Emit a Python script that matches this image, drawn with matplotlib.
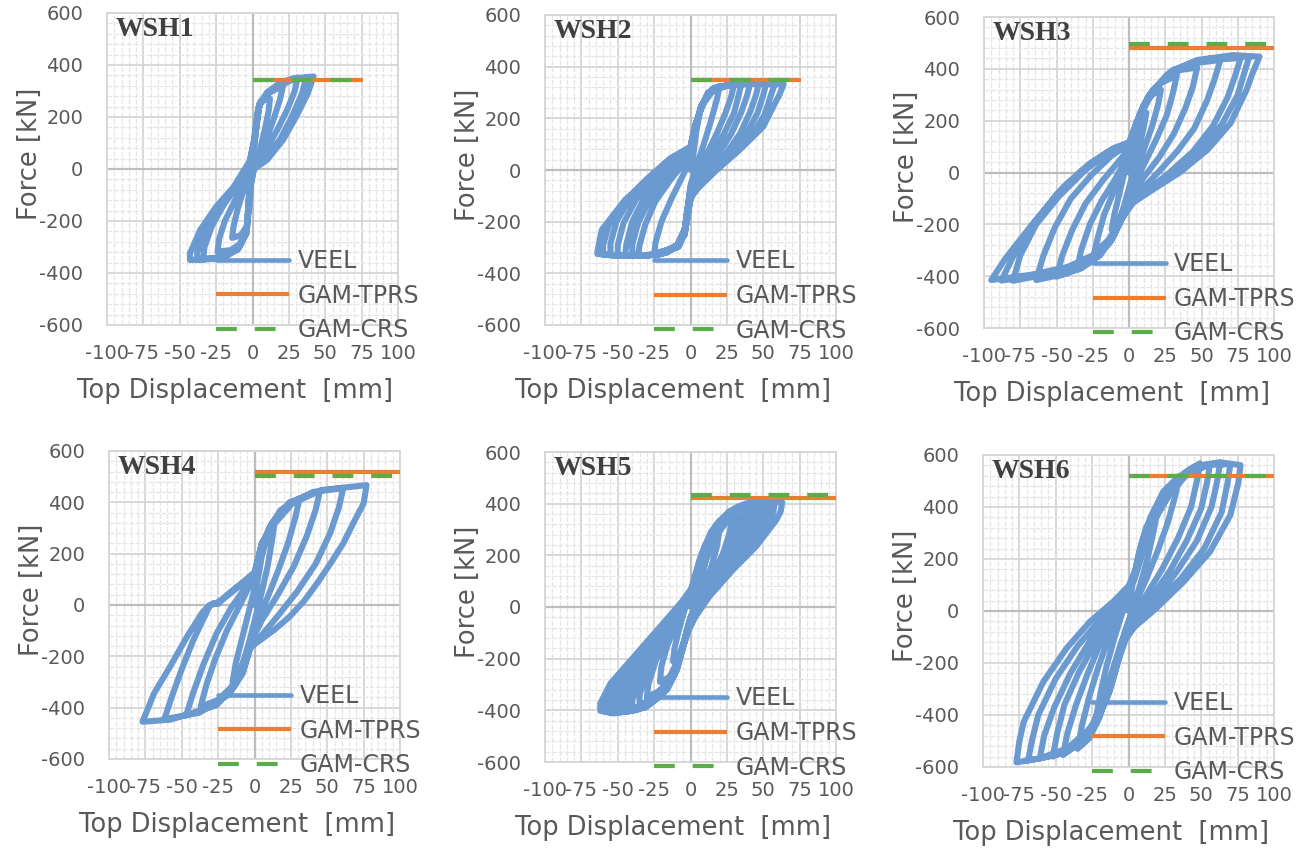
import matplotlib.pyplot as plt
from matplotlib.ticker import MultipleLocator

plt.rcParams['font.family'] = ['DejaVu Sans']
plt.rcParams['axes.unicode_minus'] = False

# specimen names and the two GAM strength estimates [kN]
specimens = ['WSH1', 'WSH2', 'WSH3', 'WSH4', 'WSH5', 'WSH6']
tprs_force = [342, 348, 481, 517, 423, 520]
crs_force = [342, 348, 496, 504, 434, 520]
gam_disp_end = [76, 76, 100, 100, 100, 100]

# VEEL hysteresis paths, (top displacement [mm], force [kN])
wsh1_path = [
    (0, 0), (1, 80), (3, 180), (5, 250), (8, 265), (12, 270),
    (11, 220), (8, 140), (5, 70), (1, 0), (-1, -60), (-2, -140), (-4, -220), (-8, -255), (-14, -265),
    (-13, -220), (-10, -150), (-6, -80), (-2, 0),
    (0, 50), (2, 150), (4, 235), (6, 262), (12, 295), (21, 320),
    (19, 270), (15, 200), (10, 120), (5, 50), (0, -5), (-2, -90), (-3, -170), (-4, -240), (-9, -290), (-15, -312), (-24, -318),
    (-23, -270), (-19, -200), (-12, -120), (-5, -40), (-1, 20),
    (1, 80), (3, 180), (5, 250), (10, 295), (20, 335), (31, 352),
    (29, 300), (24, 230), (17, 150), (9, 70), (1, 0), (-2, -70), (-3, -150), (-4, -230), (-8, -290), (-18, -335), (-34, -348),
    (-33, -300), (-28, -220), (-20, -140), (-10, -60), (-2, 20),
    (1, 110), (3, 200), (5, 255), (7, 268), (15, 312), (28, 348), (42, 356),
    (38, 291), (30, 201), (21, 112), (10, 35), (0, -4), (-2, -80), (-3, -160), (-4, -247), (-10, -310), (-22, -345), (-43, -350),
    (-43, -325), (-36, -235), (-25, -145), (-13, -69), (-2, 30),
    (2, 130), (4, 230), (6, 262), (14, 308), (26, 340), (37, 352),
    (34, 290), (27, 200), (19, 115), (9, 40), (0, -2), (-2, -75), (-3, -155), (-4, -240), (-9, -300), (-20, -340), (-38, -348),
    (-38, -320), (-32, -235), (-22, -145), (-11, -65), (-2, 25),
]

wsh2_path = [
    (0, 0), (2, 60), (4, 150), (7, 240), (12, 300), (20, 325),
    (18, 270), (13, 170), (8, 80), (3, 0), (0, -60), (-2, -150), (-4, -230), (-9, -290), (-16, -320), (-25, -330),
    (-24, -280), (-20, -200), (-13, -110), (-6, -30), (0, 40),
    (3, 150), (7, 240), (12, 295), (20, 322), (30, 332),
    (28, 285), (24, 220), (18, 140), (11, 60), (4, -10), (0, -70), (-2, -150), (-4, -230), (-9, -290), (-20, -325), (-36, -333),
    (-35, -290), (-31, -210), (-24, -120), (-14, -40), (-4, 30), (0, 60),
    (3, 150), (7, 245), (14, 305), (26, 330), (41, 335),
    (39, 290), (35, 225), (28, 140), (19, 60), (9, -10), (2, -70), (-1, -130), (-3, -200), (-4, -250), (-10, -300), (-24, -328), (-45, -332),
    (-44, -285), (-40, -200), (-32, -110), (-20, -30), (-8, 40), (0, 75),
    (3, 160), (8, 250), (16, 315), (32, 333), (52, 336),
    (50, 290), (46, 220), (38, 135), (27, 60), (14, -5), (4, -70), (0, -110), (-2, -180), (-4, -245), (-10, -300), (-30, -332), (-55, -330),
    (-55, -285), (-51, -200), (-41, -105), (-26, -20), (-10, 55), (0, 85),
    (3, 168), (8, 252), (17, 320), (35, 333), (64, 332),
    (61, 290), (58, 258), (50, 168), (36, 90), (18, 0), (6, -65), (0, -100), (-2, -180), (-4, -245), (-8, -297), (-20, -325), (-40, -333), (-64, -325),
    (-64, -316), (-61, -232), (-45, -116), (-22, 0), (0, 90), (3, 168), (6, 220),
    (12, 295), (25, 328), (45, 334), (58, 334),
    (55, 285), (51, 215), (43, 140), (31, 65), (17, 0), (5, -70), (0, -110), (-2, -180), (-4, -245), (-10, -300), (-28, -330), (-50, -332), (-60, -328),
    (-60, -290), (-56, -210), (-45, -120), (-30, -35), (-14, 45), (0, 90), (3, 168), (8, 252), (15, 315), (30, 332), (47, 335),
    (45, 290), (41, 225), (34, 140), (24, 60), (12, -8), (3, -70), (-1, -130), (-3, -200), (-4, -250), (-10, -300), (-26, -330), (-50, -331),
    (-50, -290), (-46, -205), (-37, -110), (-24, -25), (-9, 48), (0, 80), (3, 155), (7, 240), (13, 300), (24, 328), (35, 334),
    (33, 288), (30, 222), (23, 140), (15, 60), (6, -10), (0, -75), (-2, -150), (-4, -230), (-9, -290), (-22, -327), (-40, -333),
    (-40, -288), (-36, -205), (-28, -115), (-17, -35), (-6, 35), (0, 65),
]

wsh3_path = [
    (0, 0), (3, 80), (6, 150), (9, 200), (12, 230),
    (10, 170), (7, 100), (4, 30), (1, -40), (-2, -100), (-5, -160), (-8, -200), (-12, -220),
    (-10, -160), (-7, -90), (-4, -20), (-1, 50), (2, 110),
    (5, 190), (10, 260), (16, 300), (22, 320),
    (20, 260), (16, 180), (11, 100), (6, 20), (1, -60), (-3, -130), (-8, -200), (-14, -260), (-24, -310),
    (-21, -240), (-17, -160), (-11, -80), (-5, 0), (0, 70), (3, 130),
    (7, 220), (13, 290), (22, 345), (33, 375),
    (30, 300), (26, 220), (19, 130), (12, 50), (5, -30), (0, -90), (-5, -160), (-11, -240), (-20, -310), (-36, -376),
    (-33, -300), (-27, -200), (-19, -110), (-10, -30), (-2, 50), (2, 110),
    (6, 200), (13, 290), (24, 360), (35, 395), (47, 405),
    (44, 330), (39, 250), (31, 150), (21, 60), (10, -20), (2, -90), (-4, -160), (-10, -240), (-20, -320), (-33, -370), (-50, -402),
    (-46, -320), (-39, -220), (-30, -120), (-18, -30), (-6, 50), (1, 100),
    (5, 190), (14, 300), (26, 375), (42, 420), (63, 434),
    (59, 360), (54, 280), (45, 170), (33, 80), (20, 0), (8, -70), (0, -120), (-6, -190), (-13, -270), (-25, -340), (-43, -390), (-64, -415),
    (-59, -320), (-51, -210), (-40, -100), (-26, -10), (-12, 65), (0, 110),
    (5, 190), (16, 315), (30, 395), (50, 432), (77, 442),
    (73, 370), (68, 290), (58, 180), (44, 80), (27, -5), (12, -70), (2, -115), (-5, -180), (-12, -260), (-26, -330), (-50, -385), (-80, -418),
    (-75, -320), (-64, -200), (-48, -90), (-30, 10), (-13, 80), (1, 118),
    (5, 190), (17, 318), (31, 395), (47, 434), (72, 453), (90, 447),
    (85, 380), (81, 318), (70, 190), (54, 87), (35, 0), (17, -64), (3, -116), (-4, -170), (-10, -234), (-22, -312), (-41, -363), (-68, -395), (-95, -415),
    (-85, -330), (-68, -209), (-45, -54), (-27, 35), (-11, 93), (1, 119), (5, 190), (12, 270),
    (22, 350), (37, 410), (56, 440), (83, 448),
    (79, 375), (75, 300), (64, 185), (49, 85), (31, 0), (15, -66), (2, -115), (-5, -175), (-11, -245), (-24, -318), (-45, -372), (-72, -405), (-88, -417),
    (-80, -325), (-67, -205), (-50, -85), (-32, 10), (-15, 78), (0, 115), (5, 190), (15, 305), (28, 385), (44, 425), (60, 440), (70, 442),
]

wsh4_path = [
    (0, 0), (2, 90), (5, 190), (9, 270), (14, 330),
    (12, 250), (9, 150), (5, 50), (1, -40), (-3, -130), (-7, -210), (-11, -270), (-15, -300),
    (-13, -230), (-9, -140), (-5, -50), (-1, 40), (2, 110),
    (5, 220), (10, 300), (18, 370), (31, 416),
    (28, 340), (23, 240), (16, 130), (9, 30), (2, -60), (-3, -140), (-8, -230), (-16, -320), (-25, -370), (-37, -396),
    (-33, -310), (-27, -210), (-19, -100), (-10, 0), (-3, 80), (1, 130),
    (5, 230), (12, 320), (24, 400), (45, 445),
    (42, 370), (36, 270), (27, 150), (16, 40), (5, -60), (-2, -140), (-6, -220), (-13, -310), (-26, -390), (-47, -430),
    (-42, -340), (-35, -230), (-26, -110), (-16, -10), (-6, 70), (0, 125),
    (5, 240), (12, 310), (26, 400), (40, 440), (61, 456),
    (58, 380), (52, 280), (42, 160), (29, 50), (15, -50), (3, -130), (-3, -170), (-8, -260), (-18, -350), (-38, -420), (-62, -445),
    (-57, -360), (-50, -250), (-42, -136), (-31, -6), (-28, 8), (-25, 4), (-19, 39), (-10, 80), (0, 125),
    (5, 240), (12, 305), (26, 396), (46, 448), (77, 467),
    (75, 396), (68, 320), (61, 240), (52, 160), (43, 84), (34, 15), (24, -46), (14, -95), (4, -137), (-3, -165), (-8, -266), (-17, -343), (-35, -408), (-58, -447), (-77, -455),
    (-73, -400), (-69, -344), (-58, -240), (-46, -120), (-36, -30), (-31, 0), (-27, 5), (-20, 30), (-10, 75), (-1, 123), (2, 136),
]

wsh5_path = [
    (0, 0), (3, 60), (6, 140), (9, 200), (12, 230),
    (10, 170), (7, 90), (3, 10), (0, -50), (-3, -110), (-6, -170), (-9, -200), (-12, -210),
    (-11, -160), (-8, -90), (-4, -10), (0, 60), (3, 120),
    (6, 180), (10, 240), (14, 280), (20, 300),
    (18, 230), (14, 150), (8, 60), (2, -20), (-2, -80), (-5, -150), (-9, -220), (-14, -270), (-21, -290),
    (-20, -230), (-16, -150), (-10, -70), (-4, 10), (2, 90), (5, 150),
    (9, 220), (14, 290), (20, 335), (29, 355),
    (27, 290), (22, 200), (14, 110), (6, 30), (0, -40), (-3, -100), (-6, -170), (-11, -250), (-18, -315), (-30, -350),
    (-29, -300), (-24, -210), (-16, -120), (-7, -30), (2, 70), (6, 130),
    (10, 210), (16, 290), (24, 350), (33, 380),
    (32, 330), (29, 280), (22, 200), (13, 110), (5, 30), (0, -40), (-3, -100), (-6, -170), (-10, -250), (-17, -320), (-25, -360), (-35, -375),
    (-35, -340), (-31, -270), (-22, -175), (-12, -80), (-2, 15), (5, 105), (8, 170), (12, 250), (18, 320), (27, 372), (38, 395),
    (37, 360), (34, 320), (26, 225), (16, 130), (7, 40), (1, -40), (-2, -90), (-5, -150), (-9, -240), (-16, -320), (-28, -375), (-40, -395),
    (-40, -360), (-35, -285), (-25, -185), (-14, -85), (-3, 15), (5, 110), (10, 185), (16, 265), (23, 330), (32, 380), (42, 400),
    (41, 362), (38, 320), (29, 222), (18, 128), (7, 38), (1, -42), (-2, -100), (-6, -170), (-11, -262), (-19, -338), (-31, -390), (-44, -400),
    (-44, -365), (-38, -285), (-27, -182), (-15, -82), (-3, 18), (5, 110), (9, 180), (14, 260), (21, 330), (30, 380), (38, 400), (46, 405),
    (45, 365), (42, 320), (33, 220), (20, 125), (8, 35), (1, -45), (-3, -110), (-7, -190), (-13, -280), (-23, -350), (-35, -395), (-48, -405),
    (-48, -365), (-42, -285), (-30, -180), (-17, -80), (-4, 20), (5, 110), (11, 195), (17, 275), (25, 340), (34, 386), (42, 404), (50, 408),
    (49, 368), (46, 320), (36, 222), (22, 128), (9, 38), (1, -42), (-3, -110), (-7, -195), (-15, -290), (-27, -362), (-40, -402), (-52, -408),
    (-52, -368), (-46, -288), (-33, -182), (-19, -82), (-5, 18), (5, 108), (10, 190), (15, 280), (22, 345), (33, 390), (44, 405), (54, 410),
    (53, 370), (49, 320), (38, 220), (24, 130), (10, 40), (2, -40), (-3, -110), (-8, -200), (-17, -300), (-30, -370), (-43, -405), (-55, -410),
    (-55, -365), (-49, -285), (-35, -180), (-20, -80), (-5, 20), (5, 108), (12, 200), (19, 285), (27, 348), (37, 392), (48, 406), (58, 408),
    (57, 370), (54, 330), (42, 228), (27, 137), (12, 40), (3, -40), (-2, -100), (-6, -170), (-14, -280), (-26, -360), (-40, -402), (-58, -406),
    (-58, -370), (-52, -290), (-37, -186), (-21, -85), (-6, 16), (5, 106), (9, 160), (14, 250), (20, 320), (29, 372), (40, 402), (52, 410), (63, 405),
    (62, 370), (59, 337), (45, 234), (29, 143), (13, 41), (3, -40), (-2, -90), (-5, -141), (-12, -257), (-23, -348), (-37, -399), (-53, -412), (-62, -402),
    (-62, -373), (-55, -296), (-39, -193), (-23, -90), (-7, 13), (5, 104), (9, 150), (13, 234), (17, 300),
]

wsh6_path = [
    (0, 0), (3, 110), (7, 220), (12, 320), (20, 390),
    (17, 300), (13, 200), (8, 100), (3, 10), (-2, -80), (-6, -170), (-11, -270), (-16, -350), (-22, -400),
    (-19, -310), (-15, -210), (-10, -110), (-5, -20), (0, 60), (4, 140),
    (9, 260), (15, 360), (24, 460), (35, 520),
    (32, 440), (27, 340), (20, 230), (12, 120), (4, 20), (-2, -70), (-7, -170), (-13, -290), (-20, -410), (-27, -490), (-35, -530),
    (-32, -440), (-27, -330), (-21, -220), (-14, -110), (-6, -10), (1, 80), (6, 170),
    (11, 280), (18, 380), (28, 470), (38, 530), (49, 568),
    (47, 500), (43, 400), (34, 280), (23, 160), (11, 50), (1, -40), (-5, -120), (-10, -210), (-16, -320), (-24, -430), (-34, -510), (-45, -554),
    (-42, -470), (-36, -360), (-28, -240), (-19, -120), (-9, -20), (0, 70), (6, 170),
    (12, 290), (20, 400), (30, 490), (45, 555), (63, 570),
    (61, 500), (57, 400), (47, 270), (33, 150), (18, 40), (5, -50), (-2, -110), (-7, -190), (-13, -310), (-22, -430), (-35, -510), (-48, -550), (-61, -567),
    (-58, -480), (-51, -370), (-40, -240), (-27, -120), (-13, -10), (-1, 80), (7, 190),
    (13, 300), (22, 410), (33, 500), (49, 560), (63, 572), (77, 561),
    (75.5, 493), (70, 369), (56, 228), (38, 113), (19, 10), (3, -67), (-3.5, -118), (-8, -195), (-15, -323), (-26, -451), (-42, -528), (-61, -567), (-77, -582),
    (-75, -500), (-72, -426), (-58.5, -272), (-42.5, -143), (-26.5, -41), (-10.5, 36), (3, 113), (8, 215), (17, 344), (28, 446),
    (40, 525), (55, 562), (70, 565),
    (68, 490), (64, 380), (52, 240), (36, 125), (18, 25), (4, -60), (-3, -115), (-8, -200), (-14, -320), (-24, -440), (-38, -520), (-55, -560), (-69, -575),
    (-66, -490), (-62, -400), (-50, -260), (-35, -135), (-19, -30), (-5, 50), (4, 120), (10, 230), (18, 350), (28, 450), (40, 530), (56, 566),
    (54, 495), (50, 395), (40, 270), (28, 150), (14, 40), (2, -45), (-4, -115), (-9, -200), (-15, -315), (-23, -430), (-33, -505), (-52, -560),
    (-49, -470), (-44, -360), (-34, -235), (-22, -115), (-10, -15), (0, 70), (7, 180), (14, 300), (24, 420), (34, 500), (42, 545),
]

paths = [wsh1_path, wsh2_path, wsh3_path, wsh4_path, wsh5_path, wsh6_path]

# plot-area boxes in pixels: left, top, right, bottom
boxes = [(107, 13, 398, 325), (545, 15, 836, 325), (984, 17, 1274, 328),
         (109, 451, 400, 759), (545, 452, 836, 762), (983, 455, 1274, 767)]

W, H = 1307, 849
BLUE = '#6a9ad0'
ORANGE = '#ed7d31'
GREEN = '#5cad4a'
TXT = '#595959'

fig = plt.figure(figsize=(W / 100, H / 100), dpi=100)

for name, path, tprs, crs, xend, (l, t, r, b) in zip(
        specimens, paths, tprs_force, crs_force, gam_disp_end, boxes):
    ax = fig.add_axes([l / W, 1 - b / H, (r - l) / W, (b - t) / H])
    ax.set_xlim(-100, 100)
    ax.set_ylim(-600, 600)

    ax.xaxis.set_major_locator(MultipleLocator(25))
    ax.xaxis.set_minor_locator(MultipleLocator(5))
    ax.yaxis.set_major_locator(MultipleLocator(200))
    ax.yaxis.set_minor_locator(MultipleLocator(40))
    ax.grid(which='major', color='#d6d6d6', lw=1.3, zorder=0)
    ax.grid(which='minor', color='#e6e6e6', lw=0.9, ls=(0, (4, 1.2)), zorder=0)
    ax.set_axisbelow(True)
    ax.axhline(0, color='#bdbdbd', lw=1.6, zorder=1)
    ax.axvline(0, color='#bdbdbd', lw=1.6, zorder=1)
    for sp in ax.spines.values():
        sp.set_color('#d6d6d6')
        sp.set_linewidth(1.3)

    ax.tick_params(which='both', length=0, labelsize=14, labelcolor=TXT)
    ax.tick_params(axis='y', pad=17)
    ax.tick_params(axis='x', pad=14)

    disp, force = zip(*path)
    veel, = ax.plot(disp, force, color=BLUE, lw=4.4, solid_joinstyle='round',
                    solid_capstyle='round', zorder=3)
    tp, = ax.plot([0, xend], [tprs, tprs], color=ORANGE, lw=3.0,
                  solid_capstyle='butt', zorder=4)
    cr, = ax.plot([0, xend], [crs, crs], color=GREEN, lw=3.0,
                  dashes=(5.0, 4.3), dash_capstyle='butt', zorder=5)

    ax.text(0.031, 0.947, name, transform=ax.transAxes, family='Liberation Serif',
            fontweight='bold', fontsize=20, color='#404040', ha='left', va='center')

    ax.set_xlabel('Top Displacement  [mm]', fontsize=18.5, color=TXT, va='center')
    ax.xaxis.set_label_coords(0.44, -66 / (b - t))
    ax.set_ylabel('Force [kN]', fontsize=18.5, color=TXT, va='center')
    ax.yaxis.set_label_coords(-77 / (r - l), 0.55)

    leg = ax.legend([veel, tp, cr], ['VEEL', 'GAM-TPRS', 'GAM-CRS'],
                    loc='upper left', bbox_to_anchor=(0.375, 0.2436),
                    frameon=False, fontsize=17, handlelength=3.1,
                    handletextpad=0.34, labelspacing=0.45,
                    borderpad=0, borderaxespad=0)
    for txt in leg.get_texts():
        txt.set_color(TXT)
    leg.get_lines()[0].set_linewidth(3.3)

fig.savefig('out.png', dpi=100)
